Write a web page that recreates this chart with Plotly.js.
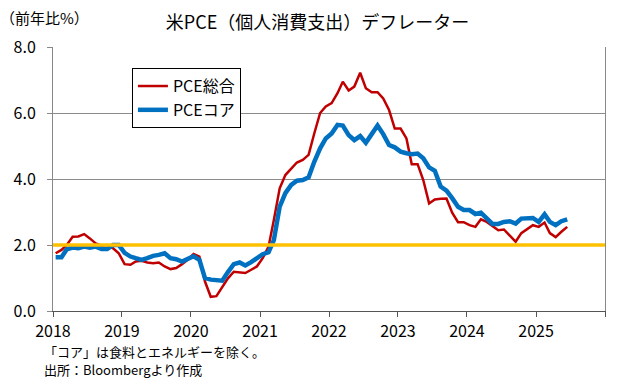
<!DOCTYPE html>
<html>
<head>
<meta charset="utf-8">
<script src="https://cdn.plot.ly/plotly-3.0.1.min.js"></script>
<style>html,body{margin:0;padding:0;background:#fff;}#chart{width:639px;height:385px;}</style>
</head>
<body>
<div id="chart"></div>
<script>
// Monthly data Jan 2018 - Jun 2025, YoY %
const startYear = 2018;
const nMonths = 90;
const seriesNames = ["PCE総合", "PCEコア"];
const pceHeadline = [
  1.75,1.85,2.00,2.25,2.26,2.33,2.20,2.05,1.98,2.00,1.90,1.75,
  1.42,1.40,1.50,1.52,1.47,1.45,1.47,1.35,1.27,1.30,1.42,1.55,
  1.73,1.65,0.90,0.43,0.45,0.74,0.99,1.19,1.18,1.15,1.25,1.35,
  1.60,1.95,2.76,3.72,4.12,4.32,4.50,4.58,4.73,5.38,6.00,6.20,
  6.30,6.60,6.95,6.68,6.80,7.22,6.75,6.63,6.63,6.44,6.09,5.53,
  5.53,5.23,4.45,4.45,3.97,3.26,3.38,3.40,3.41,2.98,2.69,2.69,
  2.60,2.55,2.78,2.70,2.58,2.45,2.47,2.28,2.10,2.36,2.48,2.60,
  2.55,2.68,2.36,2.24,2.40,2.55
];
const pceCore = [
  1.63,1.63,1.87,1.92,1.90,1.95,1.92,1.95,1.88,1.88,2.00,2.00,
  1.76,1.65,1.60,1.55,1.60,1.67,1.70,1.75,1.60,1.57,1.50,1.57,
  1.66,1.55,1.00,0.95,0.95,0.92,1.18,1.42,1.47,1.38,1.48,1.58,
  1.72,1.78,2.15,3.16,3.57,3.82,3.95,3.97,4.05,4.52,4.93,5.23,
  5.38,5.64,5.62,5.33,5.18,5.30,5.10,5.36,5.62,5.36,5.03,4.96,
  4.83,4.78,4.75,4.77,4.63,4.35,4.25,3.77,3.65,3.42,3.16,3.06,
  3.06,2.94,2.98,2.81,2.64,2.64,2.70,2.72,2.65,2.80,2.82,2.82,
  2.70,2.93,2.70,2.60,2.72,2.78
];
const targetLevel = 2.0;
const yTickVals = [0, 2, 4, 6, 8];
const yTickText = ["0.0", "2.0", "4.0", "6.0", "8.0"];
const xTickYears = ["2018","2019","2020","2021","2022","2023","2024","2025"];

const months = [];
for (let i = 0; i < nMonths; i++) {
  const y = startYear + Math.floor(i / 12);
  const m = (i % 12) + 1;
  months.push(y + "-" + String(m).padStart(2, "0") + "-15");
}

const FONT = '"Noto Sans CJK JP", "Noto Sans", sans-serif';

const traces = [
  {x: months, y: pceHeadline, type: "scatter", mode: "lines", name: seriesNames[0],
   line: {color: "#C00000", width: 2.5}},
  {x: months, y: pceCore, type: "scatter", mode: "lines", name: seriesNames[1],
   line: {color: "#0070C0", width: 4.5}}
];

const layout = {
  width: 639, height: 385,
  margin: {l: 53, r: 34, t: 47, b: 74},
  paper_bgcolor: "#fff", plot_bgcolor: "#fff",
  font: {family: FONT, size: 16, color: "#000"},
  title: {text: "米PCE（個人消費支出）デフレーター", font: {family: FONT, size: 18, color: "#000"},
          x: 0.497, xanchor: "center", y: 0.94, yanchor: "middle"},
  showlegend: true,
  legend: {x: 0.143, y: 0.92, xanchor: "left", yanchor: "top",
           bordercolor: "#000", borderwidth: 1, bgcolor: "#fff",
           font: {family: FONT, size: 16}, itemwidth: 30, tracegroupgap: 0},
  xaxis: {type: "date", range: ["2018-01-01", "2026-01-01"],
          tickvals: xTickYears.map(y => y + "-01-01").concat(["2026-01-01"]),
          ticktext: xTickYears.concat([""]),
          ticks: "outside", ticklen: 5, tickcolor: "#555", tickwidth: 1,
          showline: true, linecolor: "#555", linewidth: 1.3, mirror: false,
          showgrid: false, zeroline: false,
          tickfont: {family: FONT, size: 16}, fixedrange: true},
  yaxis: {range: [0, 8], tickvals: yTickVals, ticktext: yTickText,
          ticks: "outside", ticklen: 5, tickcolor: "#888",
          showline: true, linecolor: "#888", linewidth: 1, mirror: true,
          showgrid: true, gridcolor: "#8c8c8c", gridwidth: 1, zeroline: false,
          tickfont: {family: FONT, size: 16}, ticklabelstandoff: 8, fixedrange: true},
  shapes: [
    {type: "line", xref: "paper", x0: 0, x1: 1, yref: "y", y0: targetLevel, y1: targetLevel,
     line: {color: "#FFC000", width: 3.5}, layer: "above"}
  ],
  annotations: [
    {text: "（前年比%）", xref: "paper", yref: "paper", x: -0.1, y: 1.11, xanchor: "left", yanchor: "middle",
     showarrow: false, font: {family: FONT, size: 15}},
    {text: "「コア」は食料とエネルギーを除く。", xref: "paper", yref: "paper", x: -0.02, y: -0.155,
     xanchor: "left", yanchor: "middle", showarrow: false, font: {family: FONT, size: 13}},
    {text: "出所：Bloombergより作成", xref: "paper", yref: "paper", x: -0.02, y: -0.22,
     xanchor: "left", yanchor: "middle", showarrow: false, font: {family: FONT, size: 13}}
  ]
};

Plotly.newPlot("chart", traces, layout, {staticPlot: true, displayModeBar: false});
</script>
</body>
</html>
